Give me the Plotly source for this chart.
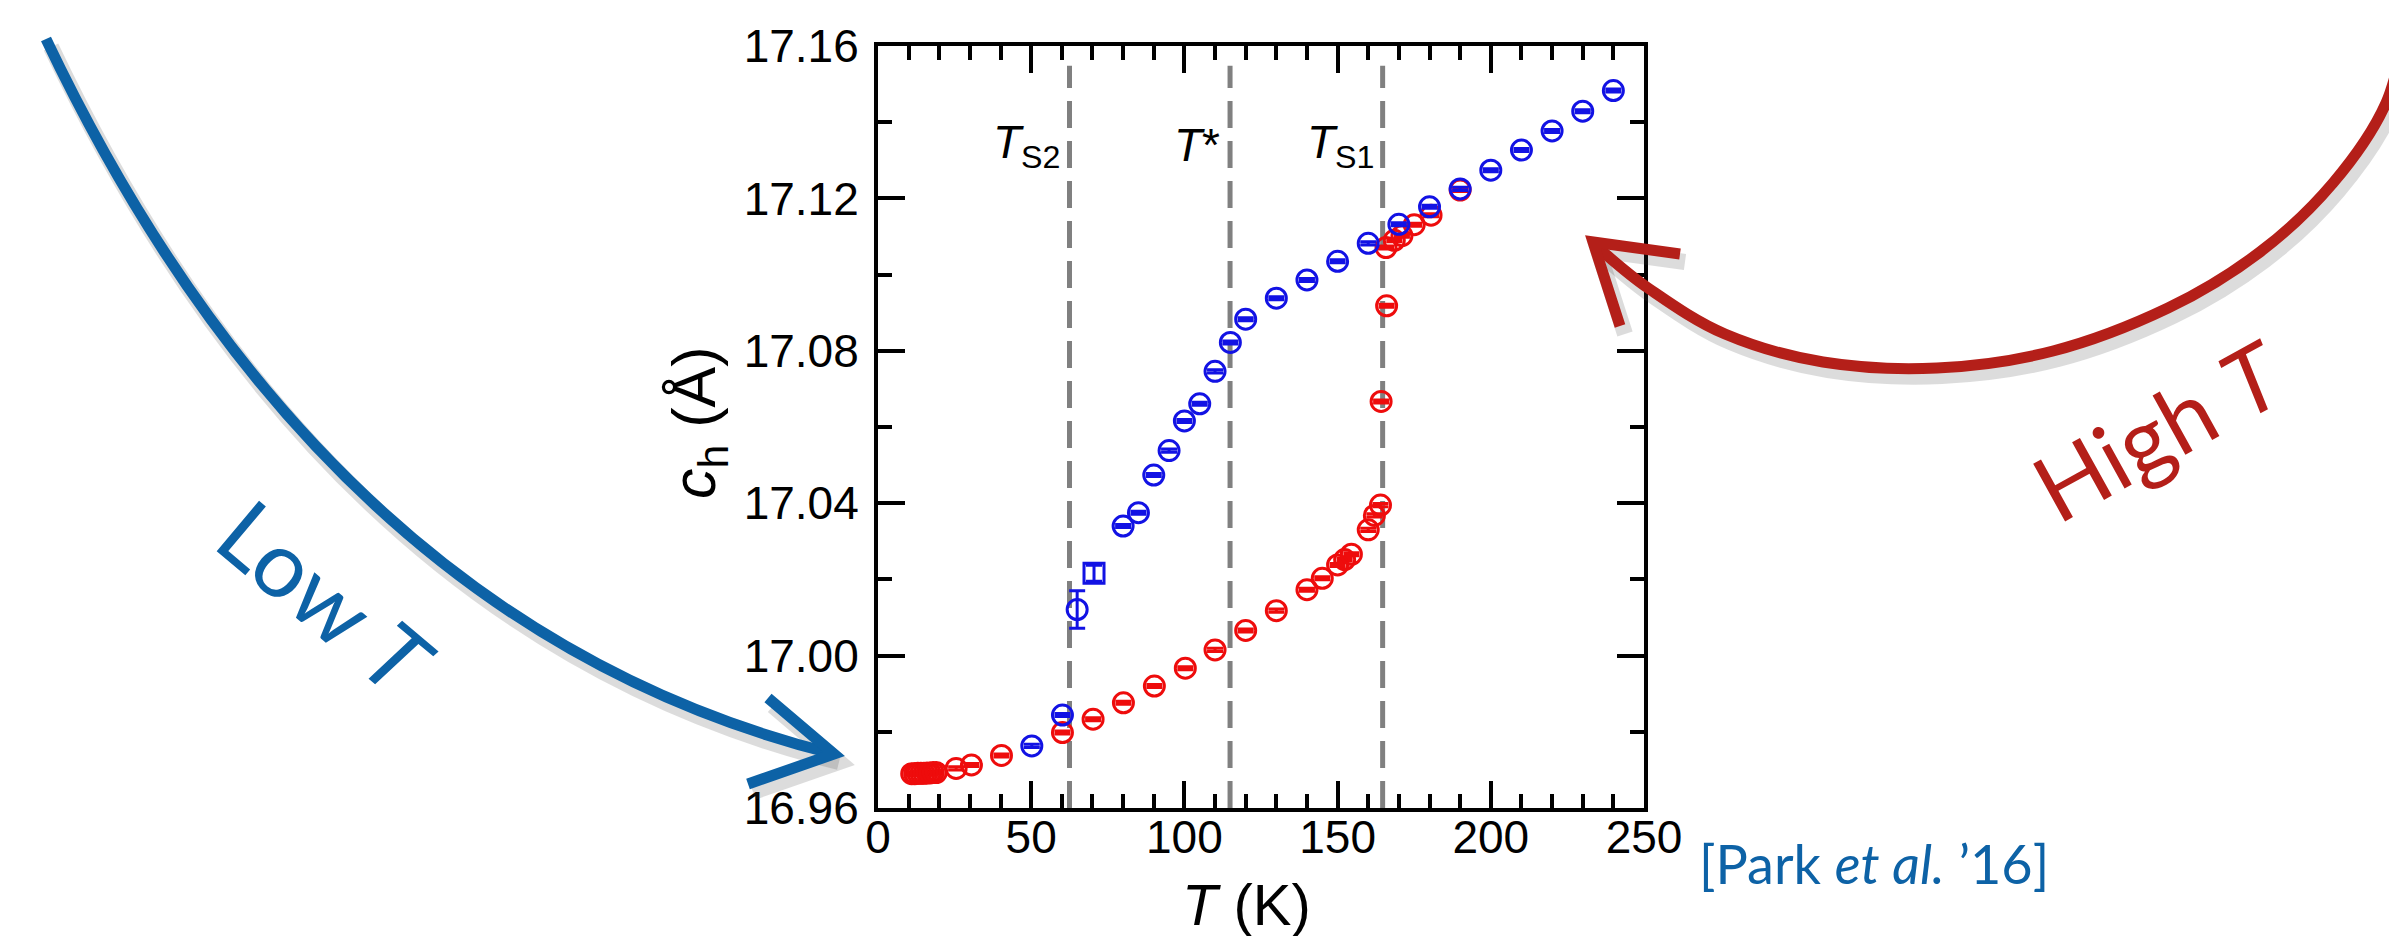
import plotly.graph_objects as go

# ---------------- data ----------------
RED_T = [11, 12, 13, 14, 15, 16, 17, 18, 19,
         25.5, 30.5, 40.3, 60.2, 70.2, 80.1, 90.2, 100.3, 110.0, 120.0,
         130.0, 140.0, 145.0, 150.0, 152.3, 154.5, 160.0, 162.0, 164.0,
         164.2, 166.0, 165.8, 168.5, 171.0, 175.0, 180.5, 190.0]
RED_C = [16.9690, 16.9690, 16.9691, 16.9691, 16.9691, 16.9692, 16.9692, 16.9693, 16.9693,
         16.9704, 16.9713, 16.9738, 16.9798, 16.9833, 16.9876, 16.9920, 16.9967, 17.0015, 17.0066,
         17.0118, 17.0173, 17.0203, 17.0238, 17.0252, 17.0266, 17.0330, 17.0368, 17.0395,
         17.0667, 17.0918, 17.1071, 17.1090, 17.1102, 17.1131, 17.1156, 17.1222]
RED_ERR = [0.0004] * len(RED_T)

BLUE_T = [50.2, 60.2, 65.0, 70.5, 80.0, 85.0, 90.0, 95.0, 100.0, 105.0, 110.0,
          115.0, 120.0, 130.0, 140.0, 150.0, 160.0, 170.0, 180.0, 190.0, 200.0,
          210.0, 220.0, 230.0, 240.0]
BLUE_C = [16.9763, 16.9844, 17.0121, 17.0216, 17.0340, 17.0375, 17.0474, 17.0538, 17.0616,
          17.0661, 17.0746, 17.0822, 17.0883, 17.0938, 17.0986, 17.1035, 17.1082, 17.1132,
          17.1178, 17.1225, 17.1274, 17.1327, 17.1377, 17.1429, 17.1483]
BLUE_ERR = [0.0004, 0.0004, 0.0049, 0.0021] + [0.0004] * 21
BLUE_SYMBOL = ["circle-open", "circle-open", "circle-open", "square-open"] + ["circle-open"] * 21

TRANSITION_T = [62.5, 114.9, 164.7]
TRANSITION_LABELS = ["<i>T</i><sub>S2</sub>", "<i>T</i>*", "<i>T</i><sub>S1</sub>"]
TRANSITION_LABEL_T = [48.5, 104.0, 151.0]

X_RANGE = [0, 250]
Y_RANGE = [16.96, 17.16]

# ---------------- styling ----------------
W, H = 2397, 936
PLOT_L, PLOT_R, PLOT_T, PLOT_B = 870, 1636, 38, 800
RED = "rgb(238,12,12)"
BLUE = "rgb(18,18,228)"
ARROW_BLUE = "#0d62a6"
ARROW_RED = "#b41f19"
AX_FONT = "Liberation Sans, Arial, sans-serif"
DECO_FONT = "Lato, Noto Sans, sans-serif"


def px(x, y):
    return x / W, 1 - y / H


def fmt(p):
    a, b = px(*p)
    return "{:.5f},{:.5f}".format(a, b)


def quad_path(p0, c, p1):
    return "M{} Q{} {}".format(fmt(p0), fmt(c), fmt(p1))


def smooth_path(points):
    pts = [px(x, y) for x, y in points]
    d = "M{:.5f},{:.5f}".format(*pts[0])
    n = len(pts)
    for i in range(n - 1):
        p0 = pts[i - 1] if i > 0 else pts[i]
        p1 = pts[i]
        p2 = pts[i + 1]
        p3 = pts[i + 2] if i + 2 < n else pts[i + 1]
        c1 = (p1[0] + (p2[0] - p0[0]) / 6, p1[1] + (p2[1] - p0[1]) / 6)
        c2 = (p2[0] - (p3[0] - p1[0]) / 6, p2[1] - (p3[1] - p1[1]) / 6)
        d += " C{:.5f},{:.5f} {:.5f},{:.5f} {:.5f},{:.5f}".format(c1[0], c1[1], c2[0], c2[1], p2[0], p2[1])
    return d


def poly_path(points):
    return "M" + " L".join(fmt(p) for p in points)


def shifted(points, dx, dy):
    return [(x + dx, y + dy) for x, y in points]


fig = go.Figure()

fig.add_trace(go.Scatter(
    x=RED_T, y=RED_C, mode="markers", showlegend=False,
    marker=dict(symbol="circle-open", size=20, color=RED, line=dict(width=3, color=RED)),
    error_y=dict(type="data", array=RED_ERR, color=RED, thickness=3, width=8),
))
fig.add_trace(go.Scatter(
    x=BLUE_T, y=BLUE_C, mode="markers", showlegend=False,
    marker=dict(symbol=BLUE_SYMBOL, size=20, color=BLUE, line=dict(width=3, color=BLUE)),
    error_y=dict(type="data", array=BLUE_ERR, color=BLUE, thickness=3, width=8),
))

shapes = []
for t in TRANSITION_T:
    shapes.append(dict(type="line", xref="x", yref="y", x0=t, x1=t, y0=16.96, y1=17.1548,
                       line=dict(color="rgb(128,128,128)", width=5, dash="27px,13px"), layer="below"))

# decorative hand-drawn style arrows (figure pixel coordinates)
blue_start, blue_ctrl, blue_end = (38, 31), (318, 620), (826, 746)
blue_head = [(760, 690), (826, 746), (740, 776)]
red_curve = [(2402, 2), (2378, 95), (2325, 175), (2252, 244), (2160, 300), (2045, 343),
             (1929, 360), (1815, 354), (1717, 326), (1640, 280), (1588, 238)]
red_head = [(1672, 246), (1585, 234), (1612, 318)]

SHADOW = "rgba(60,60,60,0.18)"
# blue
shapes.append(dict(type="path", xref="paper", yref="paper",
                   path=quad_path(*shifted([blue_start, blue_ctrl, blue_end], 5, 8)),
                   line=dict(color=SHADOW, width=16), layer="above"))
shapes.append(dict(type="path", xref="paper", yref="paper", path=poly_path(shifted(blue_head, 5, 8)),
                   line=dict(color=SHADOW, width=16), layer="above"))
shapes.append(dict(type="path", xref="paper", yref="paper", path=quad_path(blue_start, blue_ctrl, blue_end),
                   line=dict(color=ARROW_BLUE, width=11), layer="above"))
shapes.append(dict(type="path", xref="paper", yref="paper", path=poly_path(blue_head),
                   line=dict(color=ARROW_BLUE, width=11), layer="above"))
# red
shapes.append(dict(type="path", xref="paper", yref="paper", path=smooth_path(shifted(red_curve, 5, 8)),
                   line=dict(color=SHADOW, width=16), layer="above"))
shapes.append(dict(type="path", xref="paper", yref="paper", path=poly_path(shifted(red_head, 5, 8)),
                   line=dict(color=SHADOW, width=16), layer="above"))
shapes.append(dict(type="path", xref="paper", yref="paper", path=smooth_path(red_curve),
                   line=dict(color=ARROW_RED, width=11), layer="above"))
shapes.append(dict(type="path", xref="paper", yref="paper", path=poly_path(red_head),
                   line=dict(color=ARROW_RED, width=11), layer="above"))

annotations = []
for lab, lt in zip(TRANSITION_LABELS, TRANSITION_LABEL_T):
    annotations.append(dict(x=lt, y=17.134, xref="x", yref="y", text=lab, showarrow=False,
                            font=dict(family=AX_FONT, size=46, color="black"),
                            xanchor="center", yanchor="middle"))

ax_x, ax_y = px(1238, 896)
annotations.append(dict(x=ax_x, y=ax_y, xref="paper", yref="paper", text="<i>T</i> (K)",
                        showarrow=False, font=dict(family=AX_FONT, size=58, color="black"),
                        xanchor="center", yanchor="middle"))
ay_x, ay_y = px(690, 415)
annotations.append(dict(x=ay_x, y=ay_y, xref="paper", yref="paper", text="<i>c</i><sub>h</sub> (Å)",
                        showarrow=False, textangle=-90, font=dict(family=AX_FONT, size=61, color="black"),
                        xanchor="center", yanchor="middle"))

lx, ly = px(318, 588)
annotations.append(dict(x=lx, y=ly, xref="paper", yref="paper", text="Low <i>T</i>", showarrow=False,
                        textangle=40, font=dict(family=DECO_FONT, size=92, color=ARROW_BLUE),
                        xanchor="center", yanchor="middle"))
hx, hy = px(2150, 422)
annotations.append(dict(x=hx, y=hy, xref="paper", yref="paper", text="High <i>T</i>", showarrow=False,
                        textangle=-29, font=dict(family=DECO_FONT, size=92, color=ARROW_RED),
                        xanchor="center", yanchor="middle"))
cx, cy = px(1866, 855)
annotations.append(dict(x=cx, y=cy, xref="paper", yref="paper", text="[Park <i>et al.</i> ’16]",
                        showarrow=False, font=dict(family=DECO_FONT, size=54, color=ARROW_BLUE),
                        xanchor="center", yanchor="middle"))

axis_common = dict(showline=True, linecolor="black", linewidth=4, mirror="ticks",
                   ticks="inside", ticklen=27, tickwidth=4, tickcolor="black",
                   showgrid=False, zeroline=False, automargin=False,
                   tickfont=dict(family=AX_FONT, size=46, color="black"))

fig.update_layout(
    width=W, height=H,
    margin=dict(l=0, r=0, t=0, b=0, pad=0),
    paper_bgcolor="white", plot_bgcolor="rgba(0,0,0,0)",
    xaxis=dict(domain=[PLOT_L / W, PLOT_R / W], range=X_RANGE, tick0=0, dtick=50,
               ticklabelstandoff=-14,
               minor=dict(dtick=10, ticklen=14, tickwidth=4, ticks="inside", tickcolor="black"),
               **axis_common),
    yaxis=dict(domain=[1 - PLOT_B / H, 1 - PLOT_T / H], range=Y_RANGE, tick0=16.96, dtick=0.04,
               tickformat=".2f", ticklabelstandoff=6,
               minor=dict(dtick=0.02, ticklen=14, tickwidth=4, ticks="inside", tickcolor="black"),
               **axis_common),
    shapes=shapes, annotations=annotations,
)

fig.write_html("out.html")
